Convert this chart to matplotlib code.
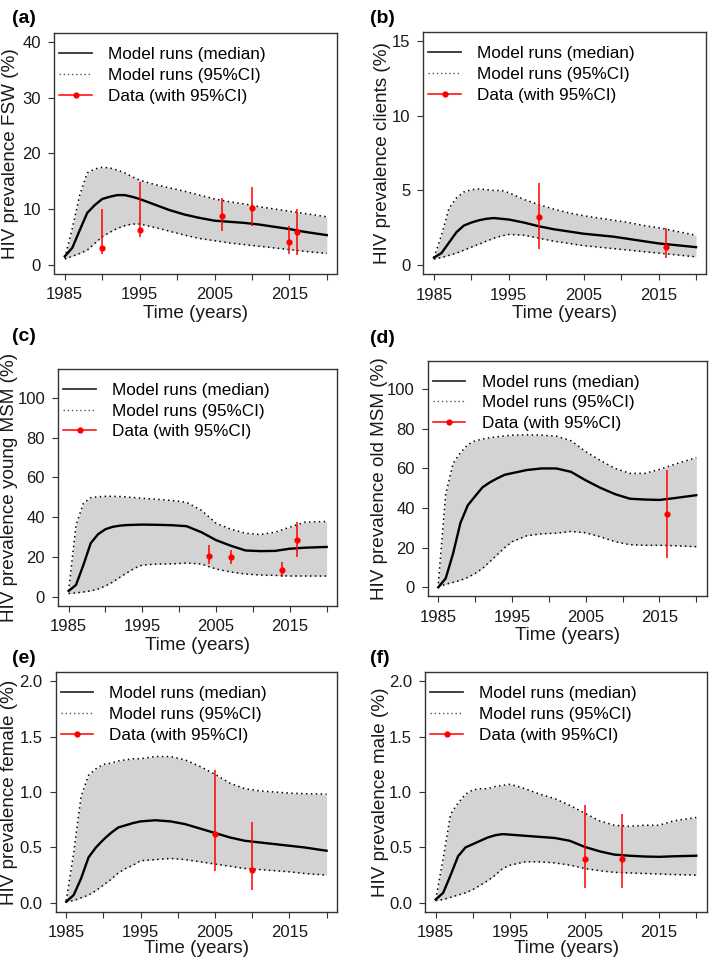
import matplotlib
matplotlib.use("Agg")
import matplotlib.pyplot as plt
from matplotlib.lines import Line2D

plt.rcParams['font.family'] = ['Liberation Sans', 'DejaVu Sans']

# model output years
years = [1985, 1986, 1987, 1988, 1989, 1990, 1991, 1992, 1993, 1994, 1995,
         1997, 1999, 2001, 2003, 2005, 2007, 2009, 2011, 2013, 2015, 2017, 2020]

# (a) FSW
fsw_med = [1.5, 3.0, 6.2, 9.3, 10.7, 11.8, 12.2, 12.5, 12.5, 12.2, 11.8,
           10.8, 9.8, 9.0, 8.4, 7.9, 7.7, 7.5, 7.2, 6.8, 6.4, 5.9, 5.3]
fsw_hi = [1.2, 6.5, 12.5, 16.5, 17.2, 17.5, 17.4, 17.0, 16.5, 15.8, 15.2,
          14.4, 13.8, 13.2, 12.5, 11.8, 11.3, 10.9, 10.4, 10.0, 9.6, 9.2, 8.6]
fsw_lo = [1.0, 1.5, 2.0, 2.6, 3.8, 5.0, 5.8, 6.5, 7.0, 7.3, 7.3,
          6.7, 6.0, 5.3, 4.7, 4.3, 3.9, 3.6, 3.3, 3.0, 2.7, 2.4, 2.0]
fsw_dyr = [1990, 1995, 2006, 2010, 2015, 2016]
fsw_dval = [3.0, 6.2, 8.7, 10.1, 4.1, 5.9]
fsw_dlo = [1.9, 4.9, 6.0, 6.9, 1.9, 1.7]
fsw_dhi = [10.0, 14.9, 12.0, 14.0, 7.0, 10.0]

# (b) clients
cli_med = [0.5, 0.8, 1.5, 2.2, 2.65, 2.85, 3.0, 3.1, 3.15, 3.1, 3.05,
           2.85, 2.6, 2.4, 2.25, 2.1, 2.0, 1.9, 1.75, 1.6, 1.45, 1.35, 1.2]
cli_hi = [0.5, 2.0, 3.8, 4.5, 4.9, 5.05, 5.1, 5.05, 5.0, 5.0, 4.85,
          4.4, 4.05, 3.75, 3.5, 3.3, 3.15, 3.0, 2.85, 2.65, 2.5, 2.3, 2.0]
cli_lo = [0.4, 0.5, 0.65, 0.8, 1.0, 1.2, 1.4, 1.6, 1.8, 1.95, 2.05,
          2.0, 1.8, 1.6, 1.45, 1.3, 1.2, 1.1, 1.0, 0.9, 0.8, 0.7, 0.55]
cli_dyr = [1999, 2016]
cli_dval = [3.2, 1.2]
cli_dlo = [1.1, 0.45]
cli_dhi = [5.5, 2.45]

# (c) young MSM
ymsm_med = [3, 6, 16, 27, 31.5, 34, 35.2, 35.8, 36.1, 36.2, 36.3,
            36.2, 36.0, 35.5, 32.5, 28.5, 25.7, 23.3, 23.0, 23.1, 24.2, 24.7, 25.1]
ymsm_hi = [3, 36, 47, 49.8, 50.3, 50.5, 50.5, 50.4, 50.1, 49.8, 49.5,
           49.0, 48.4, 47.5, 43.5, 37, 34, 32, 31.3, 32.5, 35, 37.5, 37.9]
ymsm_lo = [1.7, 2.0, 2.5, 3.0, 4.0, 5.5, 7.5, 10, 12.3, 14.5, 16.0,
           16.5, 16.6, 17.0, 16.5, 14.0, 12.5, 11.5, 11.0, 10.8, 10.5, 10.5, 10.5]
ymsm_dyr = [2004, 2007, 2014, 2016]
ymsm_dval = [20.7, 20.2, 13.5, 28.7]
ymsm_dlo = [16.4, 16.7, 9.8, 19.9]
ymsm_dhi = [26.1, 23.8, 17.4, 37.8]

# (d) old MSM
omsm_med = [0, 4.5, 17, 32.5, 41.4, 46, 50.5, 53, 55, 56.8, 57.6,
            59.2, 60.0, 60.0, 58.3, 54, 50.2, 47, 44.7, 44.3, 44.1, 45.0, 46.5]
omsm_hi = [2, 47, 62.5, 68, 72, 74, 74.8, 75.5, 76, 76.4, 76.8,
           77, 76.8, 76.3, 74, 68.5, 64, 60, 57.5, 57.5, 59.5, 62, 65.5]
omsm_lo = [0.3, 1.5, 2.5, 3.5, 5, 7, 9.5, 13, 16.5, 20, 23,
           26, 27, 27.3, 28.2, 27.5, 25.5, 23, 21.5, 21.2, 21.2, 21.0, 20.5]
omsm_dyr = [2016]
omsm_dval = [37.2]
omsm_dlo = [14.6]
omsm_dhi = [59.3]

# (e) female
fem_med = [0.01, 0.07, 0.22, 0.41, 0.5, 0.57, 0.63, 0.68, 0.70, 0.72, 0.735,
           0.745, 0.735, 0.71, 0.67, 0.63, 0.59, 0.56, 0.545, 0.53, 0.515, 0.50, 0.47]
fem_hi = [0.02, 0.45, 0.96, 1.15, 1.21, 1.25, 1.26, 1.28, 1.29, 1.30, 1.30,
          1.32, 1.32, 1.29, 1.23, 1.16, 1.08, 1.03, 1.01, 1.0, 0.99, 0.985, 0.98]
fem_lo = [0.01, 0.02, 0.045, 0.07, 0.11, 0.16, 0.21, 0.27, 0.31, 0.34, 0.38,
          0.39, 0.40, 0.39, 0.37, 0.35, 0.33, 0.31, 0.30, 0.29, 0.28, 0.265, 0.25]
fem_dyr = [2005, 2010]
fem_dval = [0.62, 0.30]
fem_dlo = [0.29, 0.12]
fem_dhi = [1.2, 0.725]

# (f) male
mal_med = [0.03, 0.09, 0.25, 0.42, 0.5, 0.53, 0.56, 0.59, 0.61, 0.62, 0.615,
           0.605, 0.595, 0.585, 0.56, 0.505, 0.465, 0.435, 0.425, 0.418, 0.415, 0.42, 0.425]
mal_hi = [0.03, 0.4, 0.8, 0.9, 0.98, 1.02, 1.03, 1.03, 1.05, 1.06, 1.07,
          1.03, 0.98, 0.94, 0.88, 0.81, 0.74, 0.70, 0.69, 0.70, 0.70, 0.74, 0.77]
mal_lo = [0.02, 0.03, 0.05, 0.07, 0.09, 0.12, 0.16, 0.2, 0.25, 0.31, 0.34,
          0.37, 0.37, 0.36, 0.34, 0.31, 0.29, 0.275, 0.27, 0.265, 0.26, 0.255, 0.25]
mal_dyr = [2005, 2010]
mal_dval = [0.40, 0.40]
mal_dlo = [0.13, 0.13]
mal_dhi = [0.886, 0.80]

xtick_pos = [1985, 1990, 1995, 2000, 2005, 2010, 2015, 2020]
xtick_lab = ['1985', '', '1995', '', '2005', '', '2015', '']

ytick_a = [0, 10, 20, 30, 40]
ytick_b = [0, 5, 10, 15]
ytick_cd = [0, 20, 40, 60, 80, 100]
ytick_ef = [0.0, 0.5, 1.0, 1.5, 2.0]
ytick_ef_lab = ['0.0', '0.5', '1.0', '1.5', '2.0']

legend_labels = ['Model runs (median)', 'Model runs (95%CI)', 'Data (with 95%CI)']

W, H = 709, 964
fig = plt.figure(figsize=(W / 100, H / 100), dpi=100)

# panel boxes in pixels: left, top, right, bottom ; ylabel offset, xlabel offset
panels = [
    ('(a)', (54.3, 33.3, 337.3, 273.5), fsw_med, fsw_lo, fsw_hi, fsw_dyr, fsw_dval, fsw_dlo, fsw_dhi,
     (0, 40), ytick_a, None, 'HIV prevalence FSW (%)', (12, 10), 35, 31.3),
    ('(b)', (423.5, 32.3, 706.5, 274), cli_med, cli_lo, cli_hi, cli_dyr, cli_dval, cli_dlo, cli_dhi,
     (0, 15), ytick_b, None, 'HIV prevalence clients (%)', (370, 10), 32.5, 31.3),
    ('(c)', (58.3, 369, 337, 605.7), ymsm_med, ymsm_lo, ymsm_hi, ymsm_dyr, ymsm_dval, ymsm_dlo, ymsm_dhi,
     (0, 110), ytick_cd, None, 'HIV prevalence young MSM (%)', (12, 328), 40, 31.3),
    ('(d)', (428, 360.7, 706.6, 596), omsm_med, omsm_lo, omsm_hi, omsm_dyr, omsm_dval, omsm_dlo, omsm_dhi,
     (0, 110), ytick_cd, None, 'HIV prevalence old MSM (%)', (370, 330), 40, 31.3),
    ('(e)', (55.8, 672.3, 337, 911.7), fem_med, fem_lo, fem_hi, fem_dyr, fem_dval, fem_dlo, fem_dhi,
     (0, 2), ytick_ef, ytick_ef_lab, 'HIV prevalence female (%)', (12, 650), 38, 27.8),
    ('(f)', (425.3, 672.3, 706.7, 911.7), mal_med, mal_lo, mal_hi, mal_dyr, mal_dval, mal_dlo, mal_dhi,
     (0, 2), ytick_ef, ytick_ef_lab, 'HIV prevalence male (%)', (370, 650), 36.5, 27.8),
]

edge = '#333333'
for (tag, box, med, lo, hi, dyr, dval, dlo, dhi, yr, yt, ytl, ylab, tagpos, yoff, xoff) in panels:
    l, t, r, b = box
    ax = fig.add_axes([l / W, 1 - b / H, (r - l) / W, (b - t) / H])
    ax.fill_between(years, lo, hi, color='#d3d3d3', lw=0)
    ax.plot(years, hi, color='black', lw=1.1, ls=(0, (1, 2.2)))
    ax.plot(years, lo, color='black', lw=1.1, ls=(0, (1, 2.2)))
    ax.plot(years, med, color='black', lw=1.7)
    ax.vlines(dyr, dlo, dhi, color='red', lw=1.1)
    ax.plot(dyr, dval, 'o', color='red', ms=4.5, mec='none')

    pad_x = 0.04 * 35
    ax.set_xlim(1985 - pad_x, 2020 + pad_x)
    span = yr[1] - yr[0]
    ax.set_ylim(yr[0] - 0.04 * span, yr[1] + 0.04 * span)
    ax.set_xticks(xtick_pos)
    ax.set_xticklabels(xtick_lab)
    ax.set_yticks(yt)
    if ytl is not None:
        ax.set_yticklabels(ytl)
    for s in ax.spines.values():
        s.set_color(edge)
        s.set_linewidth(1.0)
    ax.tick_params(direction='out', length=4.5, width=0.8, color=edge,
                   labelsize=12.0, labelcolor='#1a1a1a')
    ax.tick_params(axis='x', pad=5.3)
    ax.tick_params(axis='y', pad=5)

    ax.set_ylabel(ylab, fontsize=13.6, color='#1a1a1a')
    ax.yaxis.set_label_coords(-yoff / (r - l), 0.5)
    ax.set_xlabel('Time (years)', fontsize=13.6, color='#1a1a1a')
    ax.xaxis.set_label_coords(0.5, -xoff / (b - t))

    handles = [Line2D([], [], color='#333333', lw=1.3),
               Line2D([], [], color='#555555', lw=1.0, ls=(0, (1, 2))),
               Line2D([], [], color='red', lw=1.1, marker='o', ms=4.5, mec='none')]
    ax.legend(handles, legend_labels, loc='upper left',
              bbox_to_anchor=(5 / (r - l), 1 - 14 / (b - t)),
              frameon=False, fontsize=12.3, borderpad=0, borderaxespad=0,
              handlelength=1.9, handletextpad=0.95, labelspacing=0.33)

    fig.text(tagpos[0] / W, 1 - tagpos[1] / H, tag, ha='left', va='top',
             fontsize=14, fontweight='bold')

fig.savefig('out.png', dpi=100)
